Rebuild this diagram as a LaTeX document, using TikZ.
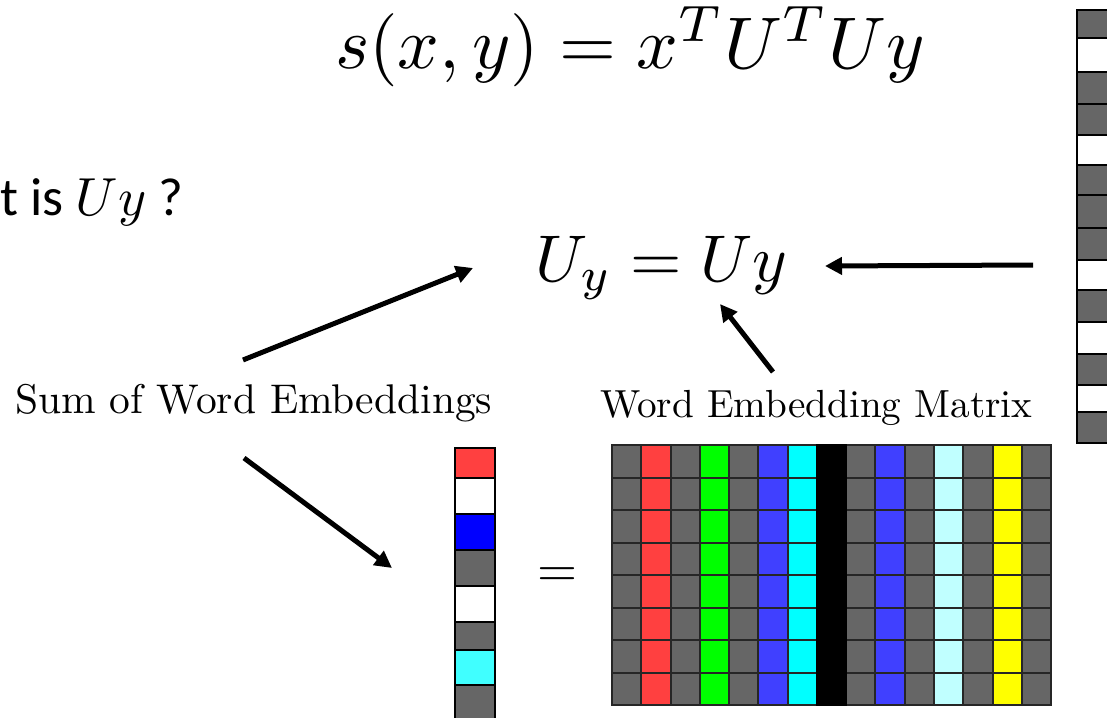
\documentclass[tikz,border=0pt]{standalone}
\usepackage{fontspec}
\usepackage{graphicx}
\newfontfamily\calibri{Carlito}
\usetikzlibrary{arrows.meta}
\definecolor{cgray}{HTML}{666666}
\definecolor{cred}{HTML}{FF4040}
\definecolor{cgreen}{HTML}{00FF00}
\definecolor{cblue}{HTML}{4040FF}
\definecolor{ccyan}{HTML}{00FFFF}
\definecolor{clcyan}{HTML}{C0FFFF}
\definecolor{cyellow}{HTML}{FFFF00}
\definecolor{vblue}{HTML}{0000FF}
\definecolor{vcyan}{HTML}{40FFFF}
\begin{document}
\begin{tikzpicture}[x=1pt,y=-1pt,
  arr/.style={line width=5pt,-{Triangle[length=17pt,width=17pt]}},
  cell/.style={draw=black!85, line width=2pt},
  vcell/.style={draw=black, line width=2.2pt},
  lbl/.style={inner sep=0pt, anchor=base west}]
\useasboundingbox (0,0) rectangle (1107,717);
\clip (0,0) rectangle (1107,717);

% formulas and labels
\node[lbl] (score) at (335,68) {\resizebox{590pt}{!}{$s(x,y) = x^TU^TUy$}};
\node[lbl] (uy) at (535,281) {\resizebox{252pt}{!}{$U_y = Uy$}};
\node[lbl] (question) at (0,215) {\resizebox{183pt}{!}{\calibri t is $Uy$ ?}};
\node[lbl] (sum) at (15,413) {\resizebox{477pt}{!}{Sum of Word Embeddings}};
\node[lbl] (wem) at (600,417) {\resizebox{432pt}{!}{Word Embedding Matrix}};
\node[inner sep=0pt] (eq) at (557,577) {\resizebox{40pt}{!}{$=$}};

% embedding matrix
\foreach \c [count=\i from 0] in {cgray,cred,cgray,cgreen,cgray,cblue,ccyan,black,cgray,cblue,cgray,clcyan,cgray,cyellow,cgray} {
  \foreach \r in {0,...,7} {
    \draw[cell, fill=\c] ({612+\i*29.27},{445+\r*32.5}) rectangle ++(29.27,32.5);
  }
}
% black column drawn as one solid band
\draw[line width=2pt, fill=black] ({612+7*29.27},445) rectangle ++(29.27,260);

% sum vector
\foreach \t/\b/\c in {448/478/cred, 478/514/white, 514/550/vblue, 550/586/cgray, 586/622/white, 622/650/cgray, 650/685/vcyan, 685/730/cgray}
  \draw[vcell, fill=\c] (455,\t) rectangle (495,\b);

% right vector
\foreach \t/\b/\c in {10/38/cgray, 38/72/white, 72/104/cgray, 104/135/cgray, 135/165/white, 165/195/cgray, 195/228/cgray, 228/260/cgray, 260/290/white, 290/322/cgray, 322/354/white, 354/385/cgray, 385/412/white, 412/443/cgray}
  \draw[vcell, fill=\c] (1077,\t) rectangle (1120,\b);

% arrows
\coordinate (a1s) at (243,360);
\coordinate (a1e) at (473,268);
\coordinate (a2s) at (244,458);
\coordinate (a2e) at (392,568);
\coordinate (a3s) at (773,372);
\coordinate (a3e) at (720,304);
\coordinate (a4s) at (1033,265);
\coordinate (a4e) at (825,266);
\draw[arr] (a1s) -- (a1e);
\draw[arr] (a2s) -- (a2e);
\draw[arr] (a3s) -- (a3e);
\draw[arr] (a4s) -- (a4e);
\end{tikzpicture}
\end{document}
